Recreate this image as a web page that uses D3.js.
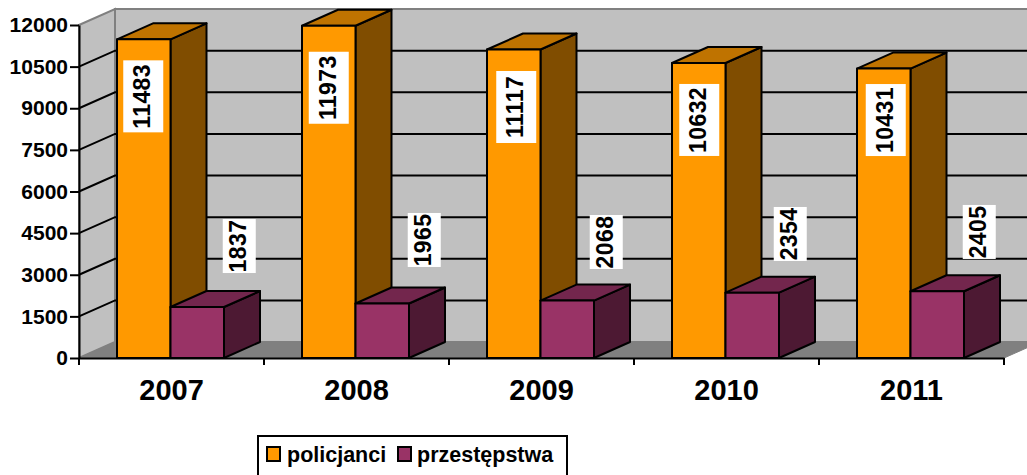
<!DOCTYPE html>
<html>
<head>
<meta charset="utf-8">
<script src="https://cdn.jsdelivr.net/npm/d3@7/dist/d3.min.js"></script>
<style>
  html, body { margin: 0; padding: 0; background: #fff; }
  svg { display: block; font-family: "Liberation Sans", Arial, sans-serif; font-weight: bold; }
</style>
</head>
<body>
<svg id="chart" width="1027" height="475"></svg>
<script>
var years = ["2007", "2008", "2009", "2010", "2011"],
  seriesNames = ["policjanci", "przestępstwa"],
  policjanci = [11483, 11973, 11117, 10632, 10431],
  przestepstwa = [1837, 1965, 2068, 2354, 2405],
  yTicks = [0, 1500, 3000, 4500, 6000, 7500, 9000, 10500, 12000];

var colors = {
  policjanci: { front: "#ff9900", top: "#bf7300", side: "#804d00" },
  "przestępstwa": { front: "#993366", top: "#73264d", side: "#4d1933" }
};

var svg = d3.select("#chart"),
  depthX = 36,
  depthY = -16;

var yScale = d3.scaleLinear().domain([0, 12000]).range([358, 25]);
var xScale = d3.scaleBand().domain(years).range([79, 1004]);
var barScale = d3.scaleBand().domain(seriesNames).range([38, 145]);

function pts(list) {
  return list.map(function (p) { return p.join(","); }).join(" ");
}

var left = xScale.range()[0],
  right = xScale.range()[1],
  y0 = yScale(0),
  yTop = yScale(12000);

// walls and floor
svg.append("polygon")
  .attr("points", pts([[left + depthX, yTop + depthY], [1040, yTop + depthY], [1040, y0 + depthY], [left + depthX, y0 + depthY]]))
  .attr("fill", "#c0c0c0").attr("stroke", "#808080").attr("stroke-width", 2);
svg.append("polygon")
  .attr("points", pts([[left, yTop], [left + depthX, yTop + depthY], [left + depthX, y0 + depthY], [left, y0]]))
  .attr("fill", "#c0c0c0").attr("stroke", "#808080").attr("stroke-width", 2);
svg.append("polygon")
  .attr("points", pts([[left, y0], [left + depthX, y0 + depthY], [right + depthX, y0 + depthY], [right, y0]]))
  .attr("fill", "#808080").attr("stroke", "#808080").attr("stroke-width", 1);

// gridlines on the side and back wall
yTicks.slice(1, -1).forEach(function (v) {
  svg.append("polyline")
    .attr("points", pts([[left, yScale(v)], [left + depthX, yScale(v) + depthY], [1040, yScale(v) + depthY]]))
    .attr("fill", "none").attr("stroke", "#000").attr("stroke-width", 2);
});

// 3d bars
function drawBar(year, name, value) {
  var x = xScale(year) + barScale(name),
    w = barScale.bandwidth(),
    y = yScale(value),
    c = colors[name];
  var g = svg.append("g").attr("stroke", "#000").attr("stroke-width", 2).attr("stroke-linejoin", "round");
  g.append("polygon")
    .attr("points", pts([[x + w, y], [x + w + depthX, y + depthY], [x + w + depthX, y0 + depthY], [x + w, y0]]))
    .attr("fill", c.side);
  g.append("polygon")
    .attr("points", pts([[x, y], [x + depthX, y + depthY], [x + w + depthX, y + depthY], [x + w, y]]))
    .attr("fill", c.top);
  g.append("rect")
    .attr("x", x).attr("y", y).attr("width", w).attr("height", y0 - y)
    .attr("fill", c.front);
}

years.forEach(function (year, i) {
  drawBar(year, seriesNames[0], policjanci[i]);
  drawBar(year, seriesNames[1], przestepstwa[i]);
});

// data labels, white box with rotated number
// the boxes were placed by hand in the original, so each one has its own shift from the bar
var shiftBig = [[-0.5, 57], [0, 62], [2.5, 57.5], [0.5, 57], [2, 51.5]],
  shiftSmall = [[42, -61], [42, -63.5], [39, -58.6], [38, -58.7], [42, -59.3]];

function drawLabel(cx, cy, value, boxW, boxH) {
  svg.append("rect")
    .attr("x", cx - boxW / 2).attr("y", cy - boxH / 2)
    .attr("width", boxW).attr("height", boxH)
    .attr("fill", "#fff");
  svg.append("text")
    .attr("transform", "translate(" + (cx + 7) + "," + cy + ") rotate(-90)")
    .attr("text-anchor", "middle")
    .attr("font-size", 23)
    .attr("letter-spacing", 0.4)
    .attr("fill", "#000")
    .text(value);
}

years.forEach(function (year, i) {
  var w = barScale.bandwidth(),
    x1 = xScale(year) + barScale(seriesNames[0]),
    x2 = xScale(year) + barScale(seriesNames[1]);
  drawLabel(x1 + w / 2 + shiftBig[i][0], yScale(policjanci[i]) + shiftBig[i][1], policjanci[i], 40, 72);
  drawLabel(x2 + w / 2 + shiftSmall[i][0], yScale(przestepstwa[i]) + shiftSmall[i][1], przestepstwa[i], 33, 54);
});

// axes
var yAxis = svg.append("g")
  .attr("transform", "translate(" + left + ",0)")
  .call(d3.axisLeft(yScale).tickValues(yTicks).tickFormat(d3.format("d")).tickSize(9).tickPadding(2).tickSizeOuter(0));
yAxis.selectAll("text").attr("font-size", 21).attr("font-weight", "bold").attr("font-family", "Liberation Sans").attr("fill", "#000");
yAxis.selectAll("line").attr("stroke", "#000").attr("stroke-width", 2);
yAxis.select(".domain").attr("stroke", "#000").attr("stroke-width", 2);

var xAxis = svg.append("g")
  .attr("transform", "translate(0," + y0 + ")")
  .call(d3.axisBottom(xScale).tickSize(0).tickPadding(21));
xAxis.selectAll("text").attr("font-size", 29).attr("font-weight", "bold").attr("font-family", "Liberation Sans").attr("fill", "#000");
xAxis.select(".domain").attr("stroke", "#000").attr("stroke-width", 2);
// ticks sit between the categories, not at their centres
var edges = years.map(function (y) { return xScale(y); }).concat([right]);
xAxis.selectAll(".edge").data(edges).enter().append("line")
  .attr("class", "edge")
  .attr("x1", function (d) { return d; }).attr("x2", function (d) { return d; })
  .attr("y1", 0).attr("y2", 7)
  .attr("stroke", "#000").attr("stroke-width", 2);

// legend
var legend = svg.append("g");
legend.append("rect")
  .attr("x", 258).attr("y", 436).attr("width", 309).attr("height", 50)
  .attr("fill", "#fff").attr("stroke", "#000").attr("stroke-width", 2);
var legendX = [267, 398], legendTextX = [287, 417];
seriesNames.forEach(function (name, i) {
  legend.append("rect")
    .attr("x", legendX[i]).attr("y", 447).attr("width", 13).attr("height", 14)
    .attr("fill", colors[name].front).attr("stroke", "#000").attr("stroke-width", 2);
  legend.append("text")
    .attr("x", legendTextX[i]).attr("y", 462)
    .attr("font-size", 21.5).attr("fill", "#000")
    .text(name);
});
</script>
</body>
</html>
